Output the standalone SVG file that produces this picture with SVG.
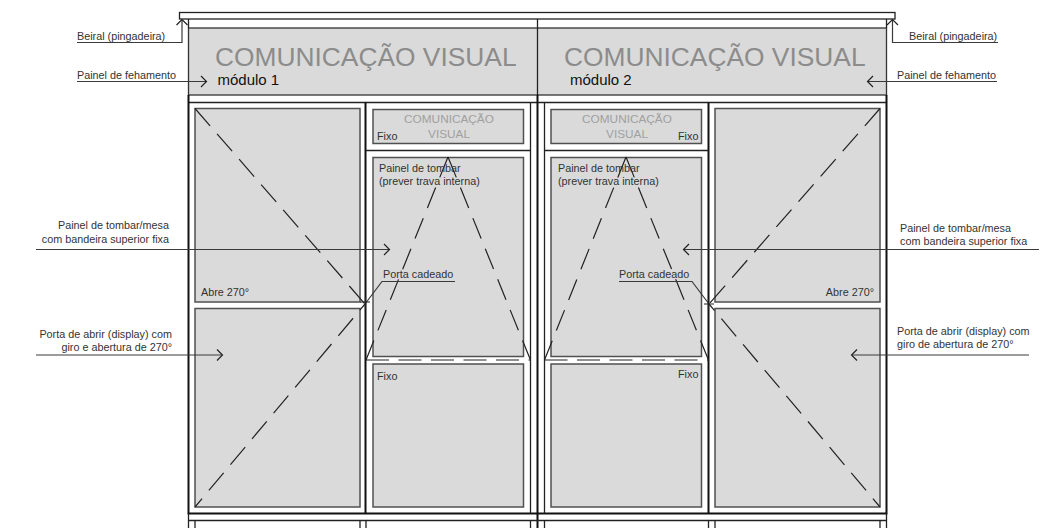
<svg xmlns="http://www.w3.org/2000/svg" width="1048" height="528" viewBox="0 0 1048 528">
<style>
text{font-family:"Liberation Sans",Arial,sans-serif;fill:#333}
.pane{fill:#dadada;stroke:#505050;stroke-width:1.5}
.frame{fill:none;stroke:#222;stroke-width:1.3}
.heavy{fill:none;stroke:#111;stroke-width:2}
.dash{fill:none;stroke:#222;stroke-width:1.2;stroke-dasharray:23 10.600}
.dash2{fill:none;stroke:#222;stroke-width:1.2;stroke-dasharray:22 11}
.dash3{fill:none;stroke:#222;stroke-width:1.2;stroke-dasharray:23 9.500}
.lead{fill:none;stroke:#3a3a3a;stroke-width:1.2}
.arr{fill:none;stroke:#222;stroke-width:1.2}
.cv{font-size:26.350px;fill:#8c8c8c}
.cvs{font-size:11.800px;fill:#a0a0a0;text-anchor:middle}
.mod{font-size:15px;fill:#111}
.lb{font-size:10.800px}
.end{text-anchor:end}
</style>
<g id="beiral"><rect class="frame" x="179.500" y="12.500" width="715.500" height="6.500"/></g>
<g id="painel-fechamento">
<rect x="188.500" y="28" width="698" height="67" fill="#dadada" stroke="#333" stroke-width="1.300"/>
<line class="frame" x1="537.500" y1="19" x2="537.500" y2="95"/>
<line class="frame" x1="188.500" y1="19" x2="188.500" y2="28"/>
<line class="frame" x1="886.500" y1="19" x2="886.500" y2="28"/>
<text class="cv" x="215" y="66">COMUNICAÇÃO VISUAL</text>
<text class="cv" x="564" y="66">COMUNICAÇÃO VISUAL</text>
<text class="mod" x="217.500" y="85">módulo 1</text>
<text class="mod" x="570" y="85">módulo 2</text>
</g>
<g id="estrutura">
<line class="frame" x1="188.500" y1="102.500" x2="886.500" y2="102.500"/>
<path class="heavy" d="M188.500 95V513.500H886.500V95"/>
<line class="heavy" x1="537.500" y1="95" x2="537.500" y2="528"/>
<line class="heavy" x1="365.500" y1="102.500" x2="365.500" y2="513.500"/>
<line class="frame" x1="530.500" y1="102.500" x2="530.500" y2="513.500"/>
<line class="frame" x1="544.500" y1="102.500" x2="544.500" y2="513.500"/>
<line class="heavy" x1="708.500" y1="102.500" x2="708.500" y2="513.500"/>
<line class="frame" x1="365.500" y1="150.500" x2="530.500" y2="150.500"/>
<line class="frame" x1="544.500" y1="150.500" x2="708.500" y2="150.500"/>
<line class="frame" x1="188.500" y1="520.500" x2="886.500" y2="520.500"/>
<path class="frame" d="M195 520.500V528M360 520.500V528M366 520.500V528M530.500 520.500V528M544.500 520.500V528M708.500 520.500V528M715 520.500V528M880 520.500V528M188.500 513.500V528M886.500 513.500V528"/>
</g>
<g id="modulo-1-porta">
<rect class="pane" x="195" y="108.500" width="165" height="193.500"/>
<rect class="pane" x="195" y="308.500" width="165" height="198.500"/>
<path class="dash" d="M195 108.500L365 304"/>
<path class="dash" stroke-dashoffset="12" d="M195 507L365 304"/>
<text class="lb" x="201" y="296">Abre 270°</text>
</g>
<g id="modulo-1-centro">
<rect class="pane" x="373" y="109.500" width="150.500" height="34"/>
<rect class="pane" x="373" y="157.500" width="150.500" height="199"/>
<rect class="pane" x="373" y="364" width="150.500" height="143"/>
<path class="dash2" d="M448 157L366 360"/>
<path class="dash2" d="M448 157L530.500 360"/>
<line class="dash3" x1="366" y1="360" x2="530.500" y2="360"/>
<text class="cvs" x="449" y="123">COMUNICAÇÃO</text>
<text class="cvs" x="449" y="138">VISUAL</text>
<text class="lb" x="377" y="140">Fixo</text>
<text class="lb" x="379" y="172">Painel de tombar</text>
<text class="lb" x="379" y="185">(prever trava interna)</text>
<text class="lb" x="377" y="380">Fixo</text>
</g>
<g id="modulo-2-centro">
<rect class="pane" x="551" y="109.500" width="150.500" height="34"/>
<rect class="pane" x="551" y="157.500" width="150.500" height="199"/>
<rect class="pane" x="551" y="364" width="150.500" height="143"/>
<path class="dash2" d="M626 157L544.500 360"/>
<path class="dash2" d="M626 157L708.500 360"/>
<line class="dash3" x1="544.500" y1="360" x2="708.500" y2="360"/>
<text class="cvs" x="627" y="123">COMUNICAÇÃO</text>
<text class="cvs" x="627" y="138">VISUAL</text>
<text class="lb" x="678" y="140">Fixo</text>
<text class="lb" x="558" y="172">Painel de tombar</text>
<text class="lb" x="558" y="185">(prever trava interna)</text>
<text class="lb" x="678" y="378">Fixo</text>
</g>
<g id="modulo-2-porta">
<rect class="pane" x="715" y="108.500" width="165" height="193.500"/>
<rect class="pane" x="715" y="308.500" width="165" height="198.500"/>
<path class="dash" d="M880 108.500L709 304"/>
<path class="dash" stroke-dashoffset="12" d="M880 507L709 304"/>
<text class="lb end" x="874" y="296">Abre 270°</text>
</g>
<g id="conectores">
<path class="lead" d="M77 42.500H182V20"/><path class="arr" d="M176.500 25L182 19.500L187.500 25"/>
<path class="lead" d="M998 42.500H892.500V20"/><path class="arr" d="M887 25L892.500 19.500L898 25"/>
<path class="lead" d="M77 81.500H206"/><path class="arr" d="M201 76L206.500 81.500L201 87"/>
<path class="lead" d="M997 81.500H868"/><path class="arr" d="M873 76L867.500 81.500L873 87"/>
<path class="lead" d="M36 249.500H389"/><path class="arr" d="M384 244L389.500 249.500L384 255"/>
<path class="lead" d="M1039 249.500H684"/><path class="arr" d="M689 244L683.500 249.500L689 255"/>
<path class="lead" d="M36 355H222"/><path class="arr" d="M217 349.500L222.500 355L217 360.500"/>
<path class="lead" d="M1029 355H852"/><path class="arr" d="M857 349.500L851.500 355L857 360.500"/>
<path class="lead" d="M455 281.500H382L365 304"/><path class="arr" d="M360 302H370M365.500 297V309"/>
<path class="lead" d="M619 281.500H692L709 304"/><path class="arr" d="M704 304H714M708.500 299V310"/>
</g>
<g id="rotulos">
<text class="lb" x="77" y="39.500">Beiral (pingadeira)</text>
<text class="lb" x="909" y="39.500">Beiral (pingadeira)</text>
<text class="lb" x="77" y="78.500">Painel de fehamento</text>
<text class="lb" x="897" y="78.500">Painel de fehamento</text>
<text class="lb end" x="169" y="229">Painel de tombar/mesa</text>
<text class="lb end" x="169" y="243">com bandeira superior fixa</text>
<text class="lb" x="900" y="232">Painel de tombar/mesa</text>
<text class="lb" x="900" y="245">com bandeira superior fixa</text>
<text class="lb end" x="172" y="338">Porta de abrir (display) com</text>
<text class="lb end" x="172" y="351">giro e abertura de 270°</text>
<text class="lb" x="897" y="335">Porta de abrir (display) com</text>
<text class="lb" x="897" y="348">giro de abertura de 270°</text>
<text class="lb" x="383" y="278">Porta cadeado</text>
<text class="lb" x="619" y="278">Porta cadeado</text>
</g>
</svg>
